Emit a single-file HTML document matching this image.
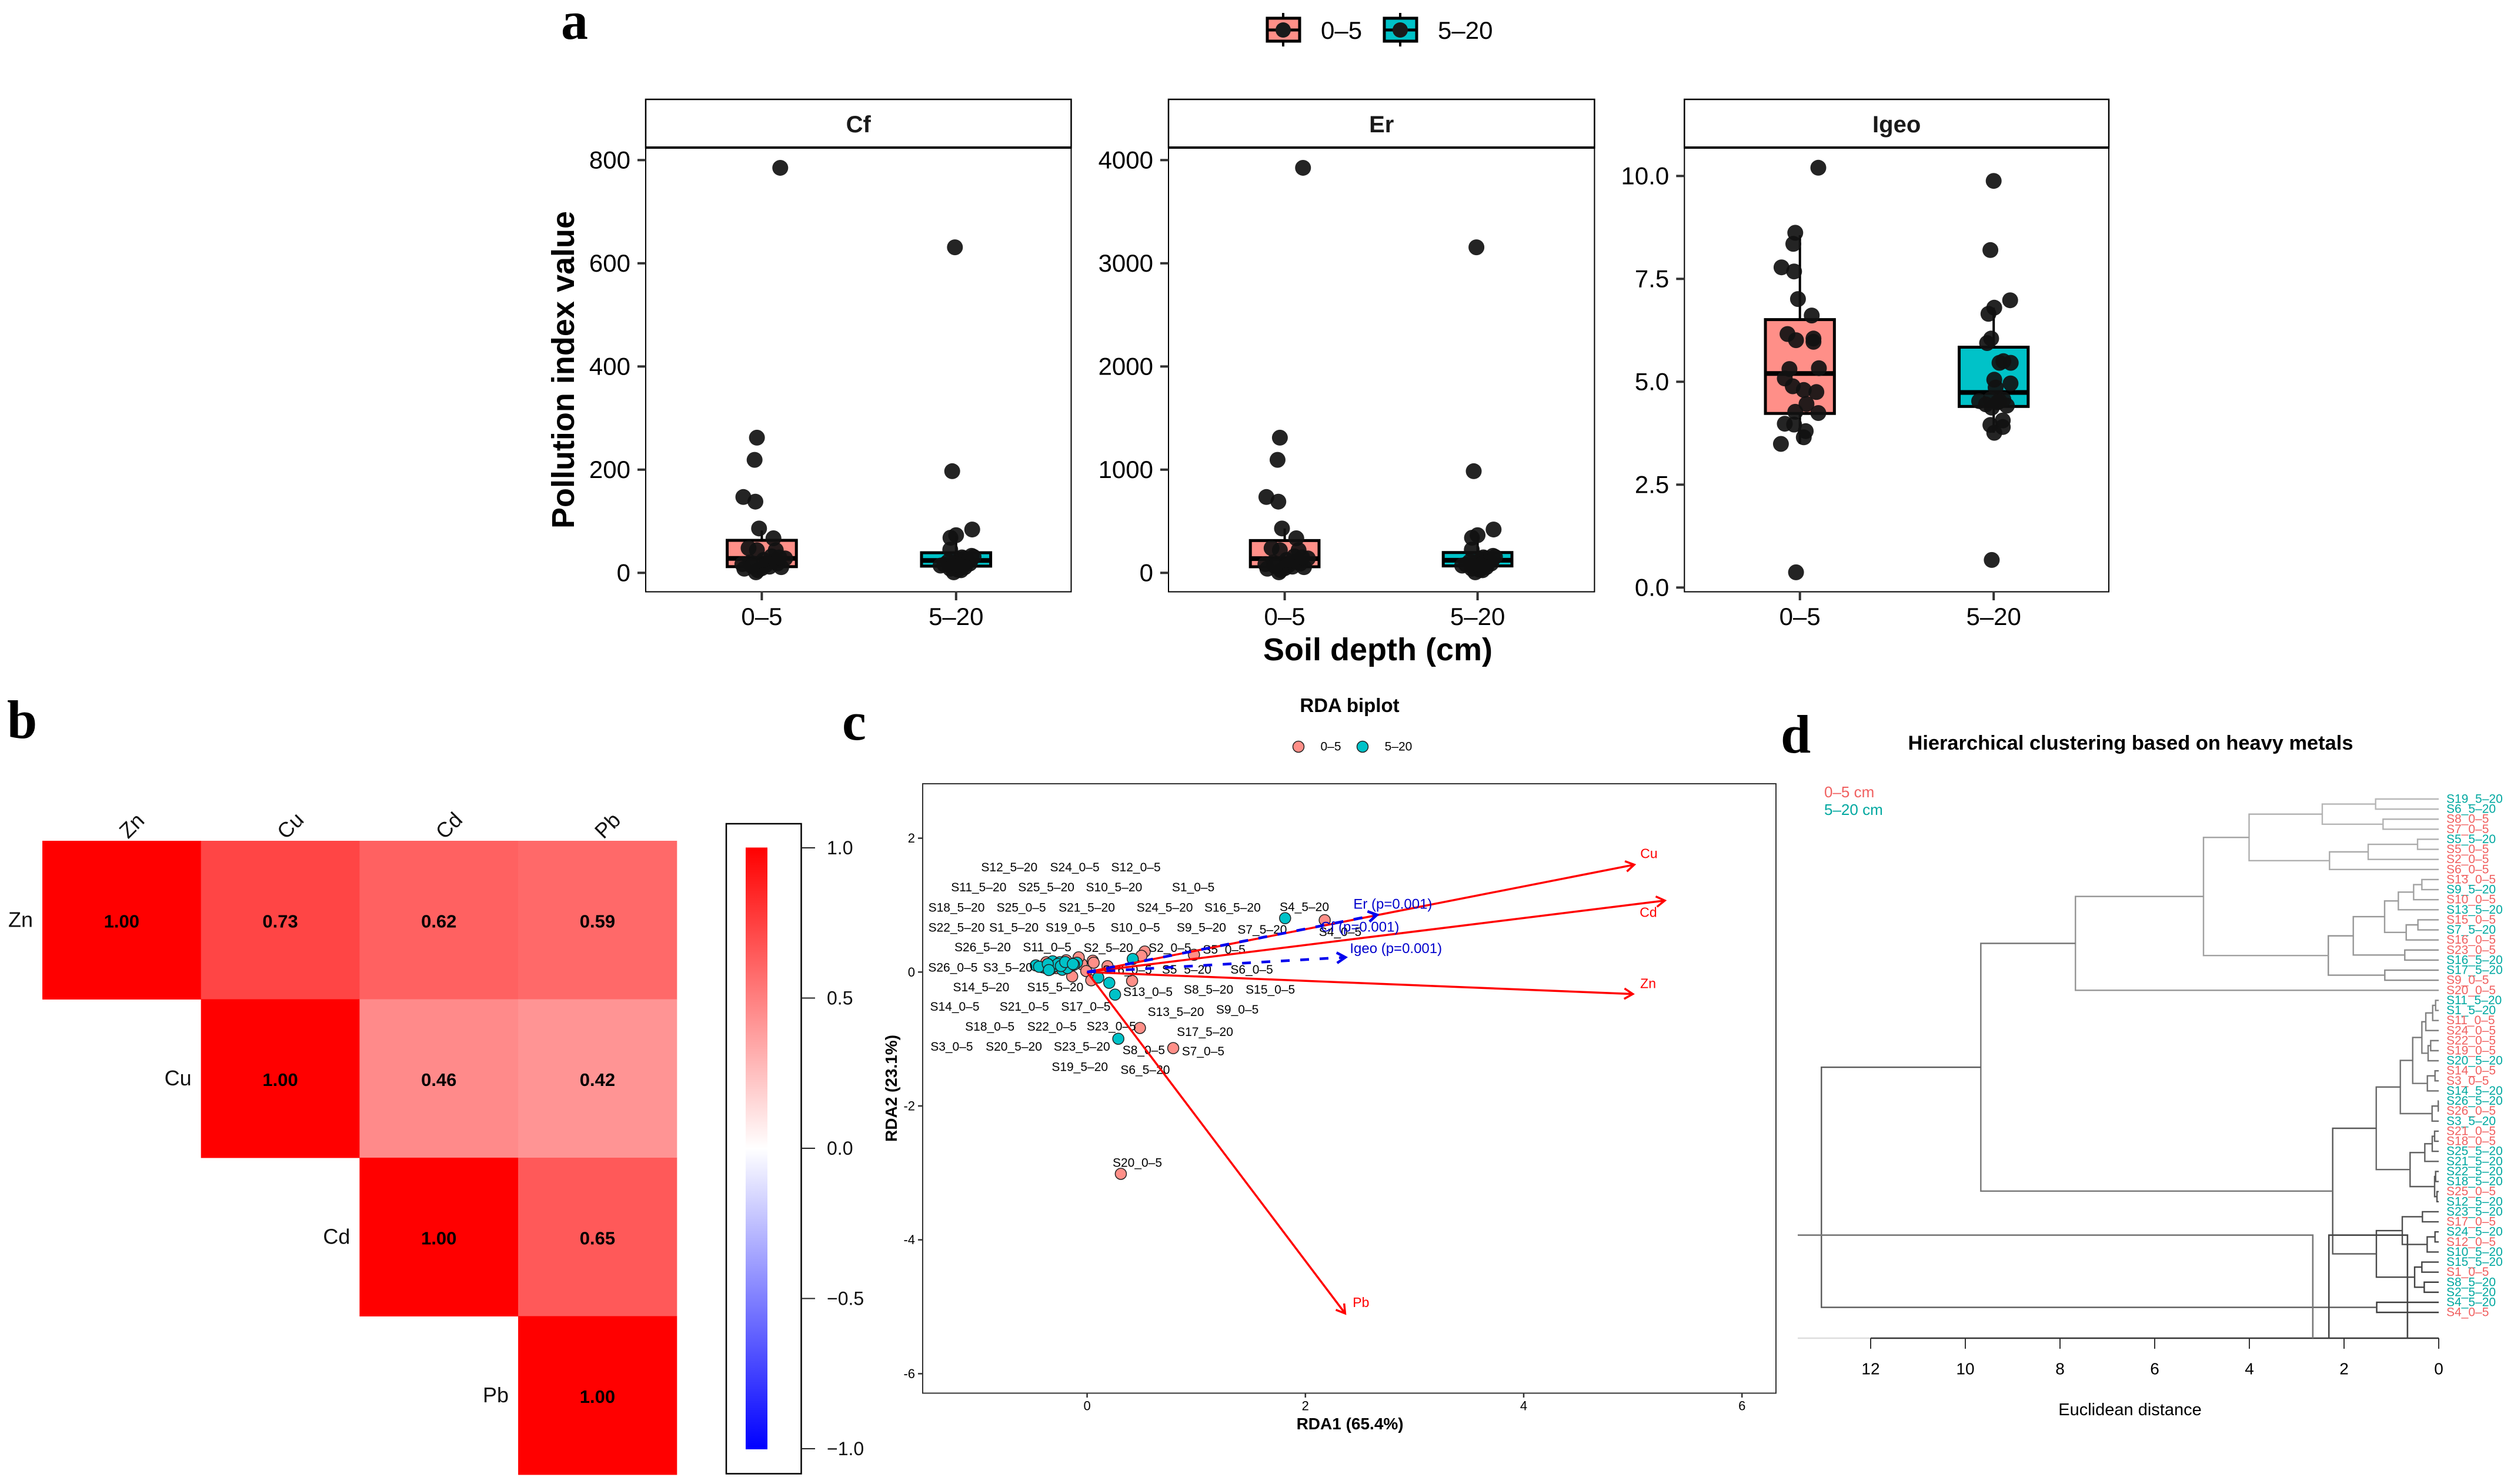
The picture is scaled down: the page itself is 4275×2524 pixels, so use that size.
<!DOCTYPE html>
<html lang="en">
<head>
<meta charset="utf-8">
<title>Pollution indices, correlation, RDA biplot and clustering</title>
<style>
html,body{margin:0;padding:0;background:#fff;}
svg{display:block;font-family:"Liberation Sans",sans-serif;}
.sl{font-size:21px;fill:#000;text-anchor:middle;dominant-baseline:central;}
.letter{font-family:"Liberation Serif",serif;font-weight:700;font-size:92px;fill:#000;}
</style>
</head>
<body>
<svg id="figure" xmlns="http://www.w3.org/2000/svg" width="4275" height="2524" viewBox="0 0 4275 2524">
<defs>
<linearGradient id="corrGrad" x1="0" y1="0" x2="0" y2="1">
<stop offset="0" stop-color="#ff0000"/><stop offset="0.5" stop-color="#ffffff"/><stop offset="1" stop-color="#0000ff"/>
</linearGradient>
</defs>
<rect width="4275" height="2524" fill="#fff"/>

<text class="letter" x="954" y="66">a</text>
<text class="letter" x="12" y="1255">b</text>
<text class="letter" x="1432" y="1258">c</text>
<text class="letter" x="3028" y="1280">d</text>

<g>
  <g>
    <line x1="2182" y1="22" x2="2182" y2="79" stroke="#000" stroke-width="4"/>
    <rect x="2155" y="31" width="55" height="39" fill="#ff8f88" stroke="#000" stroke-width="5"/>
    <line x1="2155" y1="51" x2="2210" y2="51" stroke="#000" stroke-width="5"/>
    <circle cx="2182" cy="51" r="13" fill="#1a1a1a"/>
    <text x="2246" y="66" font-size="42">0–5</text>
  </g>
  <g>
    <line x1="2381" y1="22" x2="2381" y2="79" stroke="#000" stroke-width="4"/>
    <rect x="2354" y="31" width="55" height="39" fill="#00c2c8" stroke="#000" stroke-width="5"/>
    <line x1="2354" y1="51" x2="2409" y2="51" stroke="#000" stroke-width="5"/>
    <circle cx="2381" cy="51" r="13" fill="#1a1a1a"/>
    <text x="2445" y="66" font-size="42">5–20</text>
  </g>
</g>

<text transform="translate(976,629) rotate(-90)" text-anchor="middle" font-size="54" font-weight="700">Pollution index value</text>
<text x="2343" y="1123" text-anchor="middle" font-size="54" font-weight="700">Soil depth (cm)</text>
<g id="panelA"></g>

<g id="panelB"></g>

<text x="2295" y="1211" text-anchor="middle" font-size="33" font-weight="700">RDA biplot</text>
<g>
  <circle cx="2208" cy="1270" r="9.5" fill="#ff8f88" stroke="#222" stroke-width="1.5"/>
  <text x="2263" y="1270" class="sl">0–5</text>
  <circle cx="2317" cy="1270" r="9.5" fill="#00c2c8" stroke="#222" stroke-width="1.5"/>
  <text x="2378" y="1270" class="sl">5–20</text>
</g>
<text x="2295.6" y="2431" text-anchor="middle" font-size="28" font-weight="700">RDA1 (65.4%)</text>
<text transform="translate(1525,1851) rotate(-90)" text-anchor="middle" font-size="28" font-weight="700">RDA2 (23.1%)</text>
<g id="rdaAxes"></g>
<g id="rdaPoints"></g>
<g>
<text class="sl" x="1716.3" y="1475.7">S12_5–20</text>
<text class="sl" x="1827.6" y="1475.7">S24_0–5</text>
<text class="sl" x="1931.6" y="1475.7">S12_0–5</text>
<text class="sl" x="1664.3" y="1509.7">S11_5–20</text>
<text class="sl" x="1779.1" y="1509.7">S25_5–20</text>
<text class="sl" x="1894.4" y="1509.7">S10_5–20</text>
<text class="sl" x="2029.1" y="1509.7">S1_0–5</text>
<text class="sl" x="1626.5" y="1544">S18_5–20</text>
<text class="sl" x="1736.7" y="1544">S25_0–5</text>
<text class="sl" x="1848" y="1544">S21_5–20</text>
<text class="sl" x="1980.6" y="1544">S24_5–20</text>
<text class="sl" x="2095.9" y="1544">S16_5–20</text>
<text class="sl" x="2218" y="1543">S4_5–20</text>
<text class="sl" x="1626.5" y="1578">S22_5–20</text>
<text class="sl" x="1724" y="1578">S1_5–20</text>
<text class="sl" x="1819.9" y="1578">S19_0–5</text>
<text class="sl" x="1930.6" y="1578">S10_0–5</text>
<text class="sl" x="2042.9" y="1578">S9_5–20</text>
<text class="sl" x="2146.4" y="1581.3">S7_5–20</text>
<text class="sl" x="1670.9" y="1611.7">S26_5–20</text>
<text class="sl" x="1780.6" y="1611.7">S11_0–5</text>
<text class="sl" x="1884.7" y="1612.3">S2_5–20</text>
<text class="sl" x="1989.3" y="1612.3">S2_0–5</text>
<text class="sl" x="2081.6" y="1615.3">S5_0–5</text>
<text class="sl" x="1620.4" y="1646">S26_0–5</text>
<text class="sl" x="1713.8" y="1646">S3_5–20</text>
<text class="sl" x="1916.8" y="1650">S16_0–5</text>
<text class="sl" x="2017.9" y="1649.3">S5_5–20</text>
<text class="sl" x="2128.6" y="1649.3">S6_0–5</text>
<text class="sl" x="1668.4" y="1679.7">S14_5–20</text>
<text class="sl" x="1794.4" y="1679.7">S15_5–20</text>
<text class="sl" x="2055.1" y="1683.3">S8_5–20</text>
<text class="sl" x="2160.2" y="1683.3">S15_0–5</text>
<text class="sl" x="1952" y="1687.7">S13_0–5</text>
<text class="sl" x="1623.5" y="1712.3">S14_0–5</text>
<text class="sl" x="1741.8" y="1712.3">S21_0–5</text>
<text class="sl" x="1846.4" y="1712.3">S17_0–5</text>
<text class="sl" x="1999.5" y="1721.7">S13_5–20</text>
<text class="sl" x="2104.1" y="1717.3">S9_0–5</text>
<text class="sl" x="1683.2" y="1746.7">S18_0–5</text>
<text class="sl" x="1788.8" y="1746.7">S22_0–5</text>
<text class="sl" x="1889.8" y="1746">S23_0–5</text>
<text class="sl" x="2049" y="1755.3">S17_5–20</text>
<text class="sl" x="1618.4" y="1780.7">S3_0–5</text>
<text class="sl" x="1724" y="1780.7">S20_5–20</text>
<text class="sl" x="1839.8" y="1780.7">S23_5–20</text>
<text class="sl" x="1944.9" y="1786.7">S8_0–5</text>
<text class="sl" x="2045.9" y="1788.7">S7_0–5</text>
<text class="sl" x="1836.2" y="1815">S19_5–20</text>
<text class="sl" x="1947.4" y="1820">S6_5–20</text>
<text class="sl" x="2279" y="1585.7">S4_0–5</text>
<text class="sl" x="1934" y="1978">S20_0–5</text>
</g>
<g id="rdaArrows"></g>

<text x="3623" y="1275" text-anchor="middle" font-size="34.4" font-weight="700">Hierarchical clustering based on heavy metals</text>
<text x="3102" y="1356" font-size="26" fill="#f06060">0–5 cm</text>
<text x="3102" y="1386" font-size="26" fill="#00a8a0">5–20 cm</text>
<text x="3622" y="2407" text-anchor="middle" font-size="29">Euclidean distance</text>
<g id="panelD"></g>
</svg>

<script>
// ---------- panel a data ----------
const boxCategories = ['0–5', '5–20'];
const jitterLow = [.095,-.025,-.037,-.095,-.033,-.014,.06,-.068,-.025,.072,-.09,-.03,0,.04,.1,.12,-.06,.02,.06,-.02,.08,-.1,.01,.05,-.05,.09];
const jitterHigh = [-.006,-.02,.083,0,-.029,-.03,-.08,-.012,.08,.02,.05,-.04,0,.03,.07,-.02,.04,-.06,.01,.06,-.03,.09,.025,-.01,.045,.015];
const cfLow = [785,262,219,147,138,86,67,48,44,44,8,1,9,12,11,28,20,15,22,5,18,17,25,32,13,30];
const cfHigh = [631,197,84,73,68,45,14,1,33,26,20,22,10,30,18,12,28,16,6,24,8,31,5,19,11,15];
const erLow = [3925,1310,1095,735,690,430,335,240,220,220,40,5,45,60,55,140,100,75,110,25,90,85,125,160,65,150];
const erHigh = [3155,985,420,365,340,225,70,5,165,130,100,110,50,150,90,60,140,80,30,120,40,155,25,95,55,75];
const igeoJitterLow = [.095,-.024,-.034,-.095,-.03,-.01,.061,-.064,-.02,.07,.07,-.054,.098,-.078,-.037,.02,.085,.034,-.024,.095,-.078,-.03,.03,.02,-.098,-.02];
const igeoLow = [10.2,8.62,8.35,7.78,7.68,7.01,6.61,6.16,6.01,6.05,5.97,5.31,5.33,5.08,4.89,4.8,4.75,4.46,4.27,4.24,3.98,3.96,3.8,3.65,3.49,.37];
const igeoJitterHigh = [0,-.017,.085,.003,-.027,-.013,-.034,.03,.088,.05,.003,.087,.01,-.075,-.017,.03,.068,-.01,.05,-.017,.047,.047,.003,-.01,.02,-.04];
const igeoHigh = [9.88,8.2,6.98,6.8,6.65,6.05,5.94,5.46,5.46,5.5,5.05,4.96,4.86,4.53,4.57,4.53,4.42,4.37,4.57,3.95,4.06,3.9,3.76,.67,4.5,4.45];
// box statistics: [lower whisker, q1, median, q3, upper whisker]
const cfBoxLow = [1,12,28,63,82];
const cfBoxHigh = [1,13,24,39,73];
const erBoxLow = [5,59,138,313,430];
const erBoxHigh = [5,67,122,197,365];
const igeoBoxLow = [3.49,4.23,5.2,6.51,8.56];
const igeoBoxHigh = [3.76,4.4,4.74,5.84,6.8];
const cfTicks = [0,200,400,600,800];
const erTicks = [0,1000,2000,3000,4000];
const igeoTicks = ['0.0','2.5','5.0','7.5','10.0'];

// ---------- panel b data ----------
const metals = ['Zn','Cu','Cd','Pb'];
const corrRowZn = [1.00,0.73,0.62,0.59];
const corrRowCu = [null,1.00,0.46,0.42];
const corrRowCd = [null,null,1.00,0.65];
const corrRowPb = [null,null,null,1.00];
const colorbarTicks = ['1.0','0.5','0.0','−0.5','−1.0'];

// ---------- panel c data ----------
const rda1Low = [-.374,-.305,-.192,-.25,-.28,-.32,-.2,-.1,-.05,-.077,.052,.187,-.008,-.137,.038,.412,.484,.789,.309,.528,.498,.979,2.177,-.35,-.15,.06];
const rda2Low = [.146,.088,.176,.13,.06,.11,.08,.15,.12,.22,.17,.088,.015,-.064,-.123,-.132,-.835,-1.136,-3.014,.307,.243,.258,.776,.05,.1,.14];
const rda1High = [-.47,-.41,-.333,-.316,-.25,-.228,-.209,-.154,-.093,.102,.203,.256,.286,.418,1.814,-.38,-.3,-.27,-.18,-.12,-.44,-.36,-.24,-.2,-.13,-.35];
const rda2High = [.1,.073,.044,.161,.146,.035,.132,.088,.14,-.082,-.161,-.337,-.996,.196,.805,.06,.09,.12,.06,.11,.08,.12,.09,.15,.12,.03];
const rdaXTicks = [0,2,4,6];
const rdaYTicks = [2,0,-2,-4,-6];
const metalArrowNames = ['Cu','Cd','Zn','Pb'];
const metalArrowX = [5.013,5.293,5.0,2.364];
const metalArrowY = [1.604,1.068,-.328,-5.1];
const indexArrowNames = ['Er (p=0.001)','Cf (p=0.001)','Igeo (p=0.001)'];
const indexArrowX = [2.655,2.655,2.366];
const indexArrowY = [.855,.855,.22];

// ---------- panel d data: [merge height, upper child, lower child] ----------
const clusterTree =
[13.04,
 [9.673,
  [7.674,
   [4.969,
    [4.006,
     [2.46,[1.333,'S19_5–20','S6_5–20'],[1.176,'S8_0–5','S7_0–5']],
     [2.307,[1.49,[.447,'S5_5–20','S5_0–5'],'S2_0–5'],'S6_0–5']],
    [2.332,
     [1.805,
      [1.143,
       [.853,[.53,[.356,'S13_0–5','S9_5–20'],'S10_0–5'],'S13_5–20'],
       [.687,[.439,'S15_0–5','S7_5–20'],'S16_0–5']],
      [.717,'S23_0–5','S16_5–20']],
     [1.139,'S17_5–20','S9_0–5']]],
   'S20_0–5'],
  [2.24,
   [1.32,
    [.811,
     [.55,
      [.356,
       [.273,[.128,[.066,'S11_5–20','S1_5–20'],'S11_0–5'],'S24_0–5'],
       [.224,[.17,'S22_0–5','S19_0–5'],'S20_5–20']],
      [.24,[.078,'S14_0–5','S3_0–5'],'S14_5–20']],
     [.14,[.01,'S26_5–20','S26_0–5'],'S3_5–20']],
    [.605,
     [.294,[.137,[.087,'S21_0–5','S18_0–5'],'S25_5–20'],'S21_5–20'],
     [.087,[.066,'S22_5–20','S18_5–20'],[.037,'S25_0–5','S12_5–20']]]],
   [1.317,
    [.77,[.344,'S23_5–20','S17_0–5'],[.244,[.078,'S24_5–20','S12_0–5'],'S10_5–20']],
    [.509,[.356,'S15_5–20','S1_0–5'],[.306,'S8_5–20','S2_5–20']]]]],
 [1.31,'S4_5–20','S4_0–5']];
const distanceTicks = [0,2,4,6,8,10,12];
// extra frame segments visible in the figure: [left distance, right distance]
const strayFrames = [[13.54,2.66],[2.32,.66]];

// ---------- helpers ----------
const NS = 'http://www.w3.org/2000/svg';
function make(parent, tag, props, txt) {
  const el = document.createElementNS(NS, tag);
  for (const k in props) el.setAttribute(k, props[k]);
  if (txt !== undefined) el.textContent = txt;
  parent.appendChild(el);
  return el;
}

// ---------- panel a ----------
const panelA = document.getElementById('panelA');
function drawBoxPanel(cfg) {
  const yOf = v => cfg.y0 - v * cfg.yPerUnit;
  const xOf = c => cfg.x1 + (c - 1) * cfg.xStep;
  const g = make(panelA, 'g', {});
  
  

  const strip = make(g, 'rect', {x: cfg.left, y: 169, width: cfg.right - cfg.left, height: 82.5, fill: '#fff', stroke: '#000', 'stroke-width': 2.5});
  
  
  const stripText = make(g, 'text', {x: (cfg.left + cfg.right) / 2, y: 225, 'text-anchor': 'middle', 'font-size': 40, 'font-weight': 700, fill: '#1a1a1a'}, cfg.title);
  
  
  const frame = make(g, 'rect', {x: cfg.left, y: 251.5, width: cfg.right - cfg.left, height: 755, fill: '#fff', stroke: '#000', 'stroke-width': 2});
  
  
  const stripLine = make(g, 'line', {x1: cfg.left, x2: cfg.right, y1: 251, y2: 251, stroke: '#000', 'stroke-width': 4});
  
  

  cfg.ticks.forEach(t => {
    const y = yOf(Number(t));
    const tick = make(g, 'line', {x1: cfg.left - 14, x2: cfg.left, y1: y, y2: y, stroke: '#333', 'stroke-width': 4});
    
    
    const lab = make(g, 'text', {x: cfg.left - 26, y: y + 14, 'text-anchor': 'end', 'font-size': 42}, String(t));
    
    
  });
  boxCategories.forEach((c, i) => {
    const x = xOf(i + 1);
    const tick = make(g, 'line', {x1: x, x2: x, y1: 1006, y2: 1021, stroke: '#333', 'stroke-width': 4});
    
    
    const lab = make(g, 'text', {x: x, y: 1063, 'text-anchor': 'middle', 'font-size': 42}, c);
    
    
  });

  cfg.series.forEach((s, i) => {
    const x = xOf(i + 1);
    const hw = .178 * cfg.xStep;
    const b = s.box;
    const wh = make(g, 'line', {x1: x, x2: x, y1: yOf(b[0]), y2: yOf(b[4]), stroke: '#000', 'stroke-width': 4});
    
    
    const r = make(g, 'rect', {x: x - hw, y: yOf(b[3]), width: hw * 2, height: yOf(b[1]) - yOf(b[3]), fill: s.fill, stroke: '#000', 'stroke-width': 5});
    
    
    const m = make(g, 'line', {x1: x - hw, x2: x + hw, y1: yOf(b[2]), y2: yOf(b[2]), stroke: '#000', 'stroke-width': 8});
    
    
    s.values.forEach((v, k) => {
      const p = make(g, 'circle', {cx: xOf(i + 1 + s.jitter[k]), cy: yOf(v), r: 13.5, fill: '#111', 'fill-opacity': .92});
      
      
    });
  });
}
drawBoxPanel({id:'cf', title:'Cf', left:1098, right:1821.5, x1:1295.4, xStep:330.4, y0:974.3, yPerUnit:.8775, ticks:cfTicks,
  series:[{box:cfBoxLow, values:cfLow, jitter:jitterLow, fill:'#ff8f88'},{box:cfBoxHigh, values:cfHigh, jitter:jitterHigh, fill:'#00c2c8'}]});
drawBoxPanel({id:'er', title:'Er', left:1987, right:2711.4, x1:2184.6, xStep:328, y0:974.3, yPerUnit:.1755, ticks:erTicks,
  series:[{box:erBoxLow, values:erLow, jitter:jitterLow, fill:'#ff8f88'},{box:erBoxHigh, values:erHigh, jitter:jitterHigh, fill:'#00c2c8'}]});
drawBoxPanel({id:'igeo', title:'Igeo', left:2864.3, right:3586, x1:3060.7, xStep:329.5, y0:999.3, yPerUnit:70, ticks:igeoTicks,
  series:[{box:igeoBoxLow, values:igeoLow, jitter:igeoJitterLow, fill:'#ff8f88'},{box:igeoBoxHigh, values:igeoHigh, jitter:igeoJitterHigh, fill:'#00c2c8'}]});

// ---------- panel b ----------
const panelB = document.getElementById('panelB');
const corrMatrix = [corrRowZn, corrRowCu, corrRowCd, corrRowPb];
const cellW = 269.7, cellH = 269.5, heatX = 72, heatY = 1430;
corrMatrix.forEach((row, r) => {
  row.forEach((v, c) => {
    if (v === null) return;
    const g = Math.round((1 - v) * 255);
    const cell = make(panelB, 'rect', {x: heatX + c * cellW, y: heatY + r * cellH, width: cellW + .5, height: cellH + .5, fill: 'rgb(255,' + g + ',' + g + ')'});
    
    
    const t = make(panelB, 'text', {x: heatX + (c + .5) * cellW, y: heatY + (r + .5) * cellH + 2, 'text-anchor': 'middle', 'dominant-baseline': 'central', 'font-size': 31, 'font-weight': 700}, v.toFixed(2));
    
    
  });
});
metals.forEach((m, i) => {
  const rl = make(panelB, 'text', {x: heatX + i * cellW - 16, y: heatY + (i + .5) * cellH - 1, 'text-anchor': 'end', 'dominant-baseline': 'central', 'font-size': 36, fill: '#111'}, m);
  
  
  const cx = heatX + (i + .5) * cellW + 17, cy = 1404;
  const cl = make(panelB, 'text', {transform: 'translate(' + cx + ',' + cy + ') rotate(-45)', 'text-anchor': 'middle', 'dominant-baseline': 'central', 'font-size': 36, fill: '#111'}, m);
  
  
});
const cbFrame = make(panelB, 'rect', {x: 1235, y: 1401, width: 127.5, height: 1105.5, fill: '#fff', stroke: '#000', 'stroke-width': 2.5});


const cbBar = make(panelB, 'rect', {x: 1268, y: 1441.5, width: 37, height: 1023.5, fill: 'url(#corrGrad)'});


colorbarTicks.forEach((t, i) => {
  const y = 1442 + i * 255.5;
  const tick = make(panelB, 'line', {x1: 1362.5, x2: 1386, y1: y, y2: y, stroke: '#222', 'stroke-width': 2});
  
  
  const lab = make(panelB, 'text', {x: 1406, y: y, 'dominant-baseline': 'central', 'font-size': 32, fill: '#111'}, t);
  
  
});

// ---------- panel c ----------
const rdaX = v => 1848.6 + v * 185.6;
const rdaY = v => 1653.3 - v * 113.85;
const rdaAxes = document.getElementById('rdaAxes');
const rdaFrame = make(rdaAxes, 'rect', {x: 1569, y: 1333, width: 1451, height: 1036.5, fill: 'none', stroke: '#333', 'stroke-width': 2});


rdaXTicks.forEach(t => {
  const x = rdaX(t);
  const tick = make(rdaAxes, 'line', {x1: x, x2: x, y1: 2369.5, y2: 2377, stroke: '#333', 'stroke-width': 2.5});
  
  
  const lab = make(rdaAxes, 'text', {x: x, y: 2391, 'text-anchor': 'middle', 'dominant-baseline': 'central', 'font-size': 22}, String(t));
  
  
});
rdaYTicks.forEach(t => {
  const y = rdaY(t);
  const tick = make(rdaAxes, 'line', {x1: 1561, x2: 1569, y1: y, y2: y, stroke: '#333', 'stroke-width': 2.5});
  
  
  const lab = make(rdaAxes, 'text', {x: 1556, y: y, 'text-anchor': 'end', 'dominant-baseline': 'central', 'font-size': 22}, String(t));
  
  
});
const rdaPoints = document.getElementById('rdaPoints');
rda1Low.forEach((v, i) => {
  const p = make(rdaPoints, 'circle', {cx: rdaX(v), cy: rdaY(rda2Low[i]), r: 9.5, fill: '#ff8f88', stroke: '#222', 'stroke-width': 1.5});
  
  
});
rda1High.forEach((v, i) => {
  const p = make(rdaPoints, 'circle', {cx: rdaX(v), cy: rdaY(rda2High[i]), r: 9.5, fill: '#00c2c8', stroke: '#222', 'stroke-width': 1.5});
  
  
});
const rdaArrows = document.getElementById('rdaArrows');
function arrowPath(xd, yd) {
  const x0 = rdaX(0), y0 = rdaY(0), x1 = rdaX(xd), y1 = rdaY(yd);
  const a = Math.atan2(y1 - y0, x1 - x0), L = 17, w = .55;
  const bx = (s) => x1 - L * Math.cos(a + s * w);
  const by = (s) => y1 - L * Math.sin(a + s * w);
  return {shaft: 'M' + x0 + ' ' + y0 + 'L' + x1 + ' ' + y1,
          head: 'M' + bx(1) + ' ' + by(1) + 'L' + x1 + ' ' + y1 + 'L' + bx(-1) + ' ' + by(-1)};
}
const metalLabelDx = [25,-28,26,27], metalLabelDy = [-19,20,-18,-19];
metalArrowNames.forEach((n, i) => {
  const d = arrowPath(metalArrowX[i], metalArrowY[i]);
  const shaft = make(rdaArrows, 'path', {d: d.shaft, fill: 'none', stroke: '#ff0000', 'stroke-width': 3.5});
  
  
  const head = make(rdaArrows, 'path', {d: d.head, fill: 'none', stroke: '#ff0000', 'stroke-width': 3.5});
  
  
  const lab = make(rdaArrows, 'text', {x: rdaX(metalArrowX[i]) + metalLabelDx[i], y: rdaY(metalArrowY[i]) + metalLabelDy[i], 'text-anchor': 'middle', 'dominant-baseline': 'central', 'font-size': 23, fill: '#ff0000'}, n);
  
  
});
const indexLabelDx = [27,-29,86], indexLabelDy = [-18,21,-15];
indexArrowNames.forEach((n, i) => {
  const d = arrowPath(indexArrowX[i], indexArrowY[i]);
  const shaft = make(rdaArrows, 'path', {d: d.shaft, fill: 'none', stroke: '#0000ee', 'stroke-width': 4.5, 'stroke-dasharray': '15 18'});
  
  
  const head = make(rdaArrows, 'path', {d: d.head, fill: 'none', stroke: '#0000ee', 'stroke-width': 4.5});
  
  
  const lab = make(rdaArrows, 'text', {x: rdaX(indexArrowX[i]) + indexLabelDx[i], y: rdaY(indexArrowY[i]) + indexLabelDy[i], 'text-anchor': 'middle', 'dominant-baseline': 'central', 'font-size': 24, fill: '#0000cc'}, n);
  
  
});

// ---------- panel d ----------
const panelD = document.getElementById('panelD');
const distX = d => 4147 - d * 80.5;
const leafY = i => 1359 + i * 17.12;
const grayAt = i => { const v = Math.round(185 - i * 2.5); return 'rgb(' + v + ',' + v + ',' + v + ')'; };
let leafCounter = 0;
function drawNode(node) {
  if (typeof node === 'string') {
    const i = leafCounter++;
    const lab = make(panelD, 'text', {x: 4160, y: leafY(i), 'dominant-baseline': 'central', 'font-size': 21, fill: node.indexOf('_0') > 0 ? '#f06060' : '#00a8a0'}, node);
    
    
    return {idx: i, h: 0};
  }
  const a = drawNode(node[1]);
  const b = drawNode(node[2]);
  const idx = (a.idx + b.idx) / 2;
  const link = make(panelD, 'path', {
    d: 'M' + distX(a.h) + ' ' + leafY(a.idx) + 'H' + distX(node[0]) + 'V' + leafY(b.idx) + 'H' + distX(b.h),
    fill: 'none', stroke: grayAt(idx), 'stroke-width': 2.4});
  
  
  return {idx: idx, h: node[0]};
}
drawNode(clusterTree);

const axisY = 2276, frameTopY = 2100.7;
const extension = make(panelD, 'line', {x1: distX(13.54), x2: distX(12), y1: axisY, y2: axisY, stroke: '#ddd', 'stroke-width': 2.5});


const dAxis = make(panelD, 'line', {x1: distX(12), x2: distX(0), y1: axisY, y2: axisY, stroke: '#333', 'stroke-width': 2.5});


strayFrames.forEach((f, i) => {
  const path = i === 0
    ? 'M' + distX(f[0]) + ' ' + frameTopY + 'H' + distX(f[1]) + 'V' + axisY
    : 'M' + distX(f[0]) + ' ' + axisY + 'V' + frameTopY + 'H' + distX(f[1]) + 'V' + axisY;
  const s = make(panelD, 'path', {d: path, fill: 'none', stroke: i === 0 ? '#777' : '#444', 'stroke-width': 2.6});
  
  
});
distanceTicks.forEach(t => {
  const x = distX(t);
  const tick = make(panelD, 'line', {x1: x, x2: x, y1: axisY, y2: 2294, stroke: '#333', 'stroke-width': 2});
  
  
  const lab = make(panelD, 'text', {x: x, y: 2328, 'text-anchor': 'middle', 'dominant-baseline': 'central', 'font-size': 28}, String(t));
  
  
});
</script>
</body>
</html>
